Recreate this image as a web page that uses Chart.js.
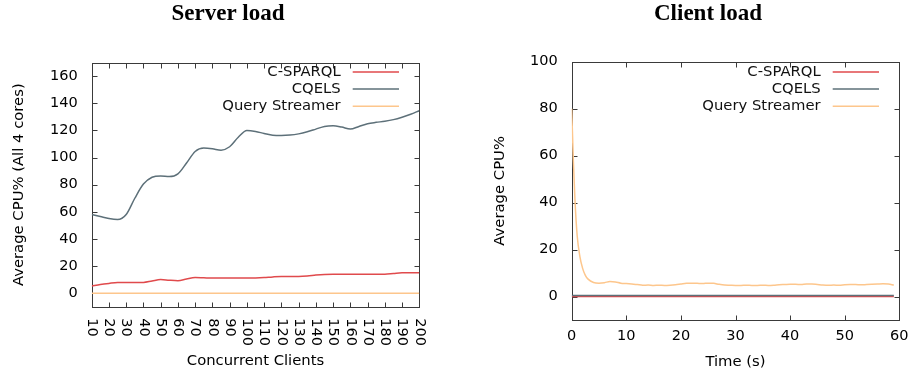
<!DOCTYPE html>
<html><head><meta charset="utf-8">
<script src="https://cdn.jsdelivr.net/npm/chart.js@4.4.1/dist/chart.umd.min.js"></script>
<style>
html,body{margin:0;padding:0;background:#fff;overflow:hidden;width:912px;height:374px;}
canvas{position:absolute;top:0;}
#c1{left:0;} #c2{left:456px;}
</style></head><body>
<canvas id="c1" width="456" height="374"></canvas>
<canvas id="c2" width="456" height="374"></canvas>
<script>
// ---- data ----
const seriesNames = ['C-SPARQL', 'CQELS', 'Query Streamer'];
const seriesColors = ['#e04a4c', '#5d7079', '#fdc68c'];

const serverTitle = 'Server load';
const serverClients = [10,15,20,25,30,35,40,45,50,55,60,65,70,75,80,85,90,95,100,105,110,115,120,125,130,135,140,145,150,155,160,165,170,175,180,185,190,195,200];
const serverCsparql = [5.2,6.4,7.2,7.8,7.8,7.8,7.9,9,10,9.5,9.2,10.5,11.5,11.3,11.1,11.1,11.1,11.1,11.1,11.2,11.5,12,12.3,12.3,12.3,12.6,13.3,13.8,14,14,14,14,14,14,14,14.5,15,15,15];
const serverCqels = [58,56.5,55,54.3,58,70,80.5,85.5,86.5,86,88,96,104.5,107,106.5,105.5,108,115,120,119.3,117.8,116.5,116.3,116.6,117.5,119,121,123,123.5,122.5,121,123,125,126,126.8,128,129.8,132,134.6];
const serverQueryStreamer = [0,0,0,0,0,0,0,0,0,0,0,0,0,0,0,0,0,0,0,0,0,0,0,0,0,0,0,0,0,0,0,0,0,0,0,0,0,0,0];
const serverXTicks = [10,20,30,40,50,60,70,80,90,100,110,120,130,140,150,160,170,180,190,200];
const serverYTicks = [0,20,40,60,80,100,120,140,160];
const serverXLabel = 'Concurrent Clients';
const serverYLabel = 'Average CPU% (All 4 cores)';

const clientTitle = 'Client load';
const clientTime = [0,0.3,0.6,1,1.5,2,2.5,3,4,5,6,7,8,9,10,11,12,13,14,15,16,17,18,19,20,21,22,23,24,25,26,27,28,29,30,31,32,33,34,35,36,37,38,39,40,41,42,43,44,45,46,47,48,49,50,51,52,53,54,55,56,57,58,59];
const clientCsparql = [0,0,0,0,0,0,0,0,0,0,0,0,0,0,0,0,0,0,0,0,0,0,0,0,0,0,0,0,0,0,0,0,0,0,0,0,0,0,0,0,0,0,0,0,0,0,0,0,0,0,0,0,0,0,0,0,0,0,0,0,0,0,0,0];
const clientCqels = [0.4,0.4,0.4,0.4,0.4,0.4,0.4,0.4,0.4,0.4,0.4,0.4,0.4,0.4,0.4,0.4,0.4,0.4,0.4,0.4,0.4,0.4,0.4,0.4,0.4,0.4,0.4,0.4,0.4,0.4,0.4,0.4,0.4,0.4,0.4,0.4,0.4,0.4,0.4,0.4,0.4,0.4,0.4,0.4,0.4,0.4,0.4,0.4,0.4,0.4,0.4,0.4,0.4,0.4,0.4,0.4,0.4,0.4,0.4,0.4,0.4,0.4,0.4,0.4];
const clientQueryStreamer = [80,58,41,26,17,12,9,7.4,6.0,5.7,5.9,6.4,6.2,5.7,5.5,5.3,5.1,4.8,4.9,4.7,4.8,4.7,4.8,5.0,5.3,5.6,5.7,5.6,5.5,5.7,5.6,5.2,4.9,4.8,4.7,4.7,4.8,4.7,4.7,4.8,4.7,4.8,5.0,5.1,5.2,5.2,5.1,5.3,5.3,5.1,4.9,4.8,4.9,4.8,5.0,5.1,5.1,5.0,5.1,5.2,5.3,5.4,5.3,4.9];
const clientXTicks = [0,10,20,30,40,50,60];
const clientYTicks = [0,20,40,60,80,100];
const clientXLabel = 'Time (s)';
const clientYLabel = 'Average CPU%';

// ---- helpers ----
const SANS = '"DejaVu Sans", Verdana, sans-serif';
const pairs = (xs, ys) => xs.map((x, i) => ({x: x, y: ys[i]}));

const framePlugin = {
  id: 'frame',
  beforeDatasetsDraw(chart) {
    const {ctx, chartArea: a, scales} = chart;
    const xs = scales.x, ys = scales.y;
    const L = 5;
    const l = Math.round(a.left) + 0.5, r = Math.round(a.right) + 0.5;
    const t = Math.round(a.top) + 0.5, b = Math.round(a.bottom) + 0.5;
    ctx.save();
    ctx.strokeStyle = '#3a3a3a';
    ctx.lineWidth = 1;
    ctx.strokeRect(l, t, r - l, b - t);
    ctx.beginPath();
    xs.ticks.forEach(tk => {
      const p = Math.round(xs.getPixelForValue(tk.value)) + 0.5;
      ctx.moveTo(p, b); ctx.lineTo(p, b - L);
      ctx.moveTo(p, t); ctx.lineTo(p, t + L);
    });
    ys.ticks.forEach(tk => {
      const p = Math.round(ys.getPixelForValue(tk.value)) + 0.5;
      ctx.moveTo(l, p); ctx.lineTo(l + L, p);
      ctx.moveTo(r, p); ctx.lineTo(r - L, p);
    });
    ctx.stroke();
    ctx.restore();
  }
};

const keyPlugin = {
  id: 'key',
  afterDatasetsDraw(chart, args, opts) {
    const {ctx, chartArea: a} = chart;
    ctx.save();
    ctx.font = '14.8px ' + SANS;
    ctx.textAlign = 'right';
    ctx.textBaseline = 'middle';
    chart.data.datasets.forEach((ds, i) => {
      const yy = a.top + opts.top + i * opts.gap;
      ctx.fillStyle = '#111';
      ctx.fillText(ds.label, a.right - 78.6, yy);
      ctx.strokeStyle = ds.borderColor;
      ctx.lineWidth = 1.5;
      ctx.beginPath();
      ctx.moveTo(a.right - 66.6, yy);
      ctx.lineTo(a.right - 20.3, yy);
      ctx.stroke();
    });
    ctx.restore();
  }
};

function makeDatasets(xs, a, b, c) {
  const vals = [a, b, c];
  return vals.map((v, i) => ({
    label: seriesNames[i],
    data: pairs(xs, v),
    borderColor: seriesColors[i],
    backgroundColor: seriesColors[i],
    borderWidth: 1.5,
    pointRadius: 0,
    fill: false,
    cubicInterpolationMode: 'monotone',
    order: 3 - i
  }));
}

function makeChart(id, cfg) {
  return new Chart(document.getElementById(id), {
    type: 'line',
    data: {datasets: makeDatasets(cfg.xs, cfg.a, cfg.b, cfg.c)},
    plugins: [framePlugin, keyPlugin],
    options: {
      responsive: false,
      animation: false,
      devicePixelRatio: 1,
      layout: {padding: cfg.padding},
      plugins: {
        legend: {display: false},
        tooltip: {enabled: false},
        title: {
          display: true,
          text: cfg.title,
          color: '#000',
          font: {family: '"Liberation Serif", "Times New Roman", serif', size: 23, weight: 'bold'},
          padding: {top: 0, bottom: cfg.titleGap}
        },
        key: {top: cfg.keyTop, gap: 17.2}
      },
      scales: {
        x: {
          type: 'linear',
          min: cfg.xMin, max: cfg.xMax,
          grid: {display: false, drawTicks: false},
          border: {display: false},
          afterBuildTicks: s => { s.ticks = cfg.xTicks.map(v => ({value: v})); },
          afterFit: s => {
            s.height = cfg.xHeight;
            s.paddingLeft = 0; s.paddingRight = 0;
            if (cfg.rotate) s._getXAxisLabelAlignment = () => 'left';
          },
          ticks: {
            color: '#000',
            font: {family: SANS, size: 14.5},
            padding: cfg.xTickPad,
            autoSkip: false,
            minRotation: cfg.rotate ? -90 : 0,
            maxRotation: cfg.rotate ? -90 : 0
          },
          title: {
            display: true, text: cfg.xLabel, color: '#000',
            font: {family: SANS, size: 14.8},
            padding: {top: 0, bottom: cfg.xTitlePad}
          }
        },
        y: {
          type: 'linear',
          min: cfg.yMin, max: cfg.yMax,
          grid: {display: false, drawTicks: false},
          border: {display: false},
          afterBuildTicks: s => { s.ticks = cfg.yTicks.map(v => ({value: v})); },
          afterFit: s => { s.width = 55; s.paddingTop = 0; s.paddingBottom = 0; },
          ticks: {
            color: '#000',
            font: {family: SANS, size: 14.5},
            padding: 14
          },
          title: {
            display: true, text: cfg.yLabel, color: '#000',
            font: {family: SANS, size: 14.8},
            padding: {top: cfg.yTitlePad, bottom: 0}
          }
        }
      }
    }
  });
}

makeChart('c1', {
  title: serverTitle, xs: serverClients, a: serverCsparql, b: serverCqels, c: serverQueryStreamer,
  xMin: 10, xMax: 200, yMin: -10, yMax: 170, xTicks: serverXTicks, yTicks: serverYTicks,
  xLabel: serverXLabel, yLabel: serverYLabel,
  padding: {left: 36.7, right: 36.7, top: 0, bottom: 0},
  titleGap: 35.1, xHeight: 67.3, xTickPad: 11.6, xTitlePad: 4.1, yTitlePad: -26.1,
  rotate: true, keyTop: 9.2
});

makeChart('c2', {
  title: clientTitle, xs: clientTime, a: clientCsparql, b: clientCqels, c: clientQueryStreamer,
  xMin: 0, xMax: 60, yMin: -10, yMax: 100, xTicks: clientXTicks, yTicks: clientYTicks,
  xLabel: clientXLabel, yLabel: clientYLabel,
  padding: {left: 60.7, right: 12.7, top: 0, bottom: 0},
  titleGap: 34.1, xHeight: 54, xTickPad: 7.3, xTitlePad: 3.4, yTitlePad: -25.6,
  rotate: false, keyTop: 10.2
});
</script>
</body></html>
